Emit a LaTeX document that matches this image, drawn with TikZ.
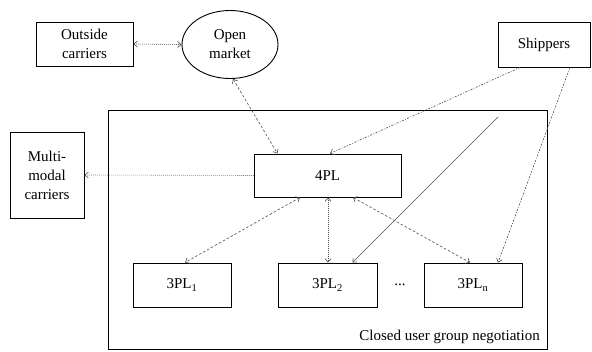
\documentclass[tikz,border=0pt]{standalone}
\usepackage{fontspec}
\setmainfont{Liberation Serif}
\usetikzlibrary{arrows.meta,shapes.geometric}
\begin{document}
\begin{tikzpicture}[x=1pt,y=-1pt,
  every node/.style={font=\fontsize{15}{19}\selectfont, align=center, inner sep=0pt},
  boxnode/.style={draw, line width=0.9pt},
  conn/.style={line width=0.6pt, gray!60!black},
  dbl/.style={{Straight Barb[length=3.5pt,width=6pt]}-{Straight Barb[length=3.5pt,width=6pt]}},
  sgl/.style={-{Straight Barb[length=3.5pt,width=6pt]}},
  dots/.style={dash pattern=on 0.8pt off 1.2pt},
  dashs/.style={dash pattern=on 2.5pt off 2pt},
  dashdots/.style={dash pattern=on 2pt off 1.5pt on 0.8pt off 1.5pt}]
\useasboundingbox (0,0) rectangle (592,351);
% big closed-group box
\draw[line width=0.9pt] (108,110) rectangle (547,349);
\node[anchor=south east] (cug) at (540,344) {Closed user group negotiation};
% nodes
\node[boxnode, minimum width=97pt, minimum height=44pt] (outc) at (84.5,44) {Outside\\carriers};
\node[boxnode, ellipse, minimum width=96pt, minimum height=68pt] (open) at (230,44.5) {Open\\market};
\node[boxnode, minimum width=92pt, minimum height=45pt] (ship) at (544,44.5) {Shippers};
\node[boxnode, minimum width=74pt, minimum height=86pt] (multi) at (47,175) {Multi-\\modal\\carriers};
\node[boxnode, minimum width=147pt, minimum height=43pt] (fourpl) at (327.5,175.5) {4PL};
\node[boxnode, minimum width=98pt, minimum height=44pt] (tpl1) at (182,285) {3PL\textsubscript{1}};
\node[boxnode, minimum width=99pt, minimum height=44pt] (tpl2) at (327.5,285) {3PL\textsubscript{2}};
\node[boxnode, minimum width=98pt, minimum height=44pt] (tpln) at (473,285) {3PL\textsubscript{n}};
\node (dots) at (400,285) {...};
\coordinate (sline) at (498,117);
% connectors
\draw[conn, dots, dbl] (outc.east) -- (open.west);
\draw[conn, dashs, dbl] ([xshift=3pt]open.south) -- ([xshift=-50pt]fourpl.north);
\draw[conn, dashdots, sgl] ([xshift=-24pt]ship.south) -- ([xshift=2.5pt]fourpl.north);
\draw[conn, dashdots, sgl] ([xshift=26pt]ship.south) -- ([xshift=25pt]tpln.north);
\draw[conn, sgl] (sline) -- ([xshift=25pt]tpl2.north);
\draw[conn, dots, sgl] (fourpl.west) -- (multi.east);
\draw[conn, dashs, dbl] ([xshift=-27.5pt]fourpl.south) -- ([xshift=3pt]tpl1.north);
\draw[conn, dots, dbl] ([xshift=0.5pt]fourpl.south) -- ([xshift=0.5pt]tpl2.north);
\draw[conn, dashs, dbl] ([xshift=25.5pt]fourpl.south) -- ([xshift=-3pt]tpln.north);
\end{tikzpicture}
\end{document}
